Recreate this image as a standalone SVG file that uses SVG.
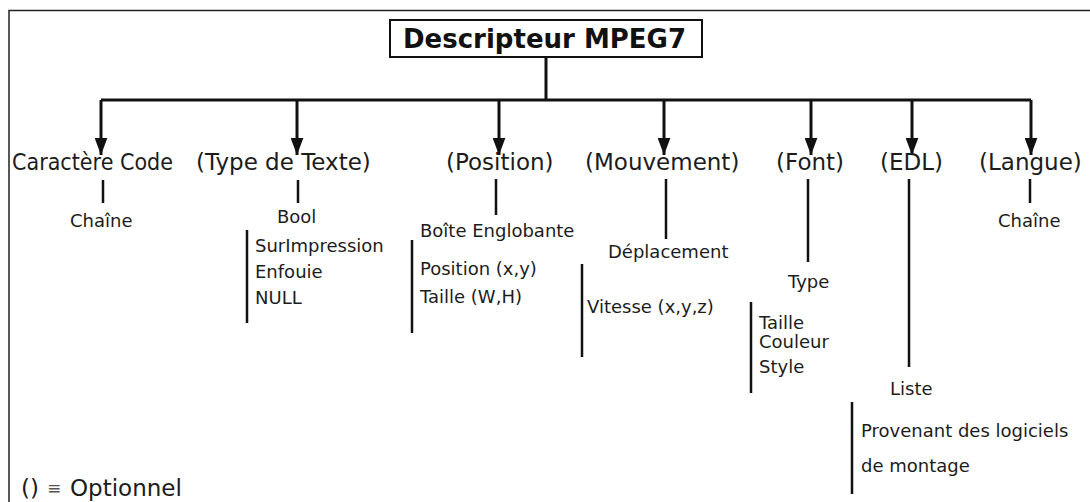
<svg xmlns="http://www.w3.org/2000/svg" width="1090" height="502" viewBox="0 0 1090 502">
<defs>
<marker id="arr" viewBox="0 0 16 12" refX="16" refY="6" markerWidth="17" markerHeight="13" markerUnits="userSpaceOnUse" orient="auto">
<path d="M0,0 L16,6 L0,12 z" fill="#111"/>
</marker>
<style>
.lbl{font-family:"DejaVu Sans","Verdana",sans-serif;font-size:23px;fill:#1c1c1c}
.sub{font-family:"DejaVu Sans","Verdana",sans-serif;font-size:18px;fill:#1c1c1c}
.ttl{font-family:"DejaVu Sans","Verdana",sans-serif;font-size:26px;font-weight:bold;fill:#111}
.conn{stroke:#111;stroke-width:3;fill:none}
.bar{stroke:#111;stroke-width:2.5;fill:none}
</style>
</defs>
<rect width="1090" height="502" fill="#fff"/>
<path d="M9,502 V10.5 H1090" stroke="#222" stroke-width="1.5" fill="none"/>

<g id="connectors">
<path class="conn" d="M546,57 V100 M101,100 H1031"/>
<path class="conn" d="M101,100 V155" marker-end="url(#arr)"/>
<path class="conn" d="M297,100 V155" marker-end="url(#arr)"/>
<path class="conn" d="M499,100 V155" marker-end="url(#arr)"/>
<path class="conn" d="M664,100 V155" marker-end="url(#arr)"/>
<path class="conn" d="M811,100 V155" marker-end="url(#arr)"/>
<path class="conn" d="M912,100 V155" marker-end="url(#arr)"/>
<path class="conn" d="M1031,100 V155" marker-end="url(#arr)"/>
<path class="bar" d="M103,180 V203 M298,180 V203 M496,179 V215 M666,179 V239 M808,179 V262 M909,179 V367 M1030,179 V203"/>
<path class="bar" d="M247,230 V323 M412,240 V333 M582,264 V357 M751,302 V393 M852,402 V494"/>
</g>

<g id="root">
<rect x="390" y="20" width="312" height="37" fill="#fff" stroke="#111" stroke-width="2"/>
<text class="ttl" x="403" y="48">Descripteur MPEG7</text>
</g>

<g id="caractere">
<text class="lbl" x="12" y="170" textLength="161" lengthAdjust="spacingAndGlyphs">Caractère Code</text>
<text class="sub" x="70" y="227">Chaîne</text>
</g>

<g id="typetexte">
<text class="lbl" x="196" y="170">(Type de Texte)</text>
<text class="sub" x="277" y="223">Bool</text>
<text class="sub" x="255" y="252">SurImpression</text>
<text class="sub" x="255" y="278">Enfouie</text>
<text class="sub" x="255" y="304">NULL</text>
</g>

<g id="position">
<text class="lbl" x="446" y="170">(Position)</text>
<text class="sub" x="420" y="237">Boîte Englobante</text>
<text class="sub" x="420" y="275">Position (x,y)</text>
<text class="sub" x="420" y="303">Taille (W,H)</text>
</g>

<g id="mouvement">
<text class="lbl" x="585" y="170">(Mouvement)</text>
<text class="sub" x="608" y="258">Déplacement</text>
<text class="sub" x="587" y="313">Vitesse (x,y,z)</text>
</g>

<g id="font">
<text class="lbl" x="776" y="170">(Font)</text>
<text class="sub" x="788" y="288">Type</text>
<text class="sub" x="759" y="329">Taille</text>
<text class="sub" x="759" y="348">Couleur</text>
<text class="sub" x="759" y="373">Style</text>
</g>

<g id="edl">
<text class="lbl" x="880" y="170">(EDL)</text>
<text class="sub" x="890" y="395">Liste</text>
<text class="sub" x="861" y="437">Provenant des logiciels</text>
<text class="sub" x="861" y="472">de montage</text>
</g>

<g id="langue">
<text class="lbl" x="979" y="170">(Langue)</text>
<text class="sub" x="998" y="227">Chaîne</text>
</g>

<g id="legend">
<text class="lbl" x="21" y="496">()</text>
<text class="sub" x="47" y="494" style="font-size:17px;fill:#555">≡</text>
<text class="lbl" x="70" y="496">Optionnel</text>
</g>
</svg>
